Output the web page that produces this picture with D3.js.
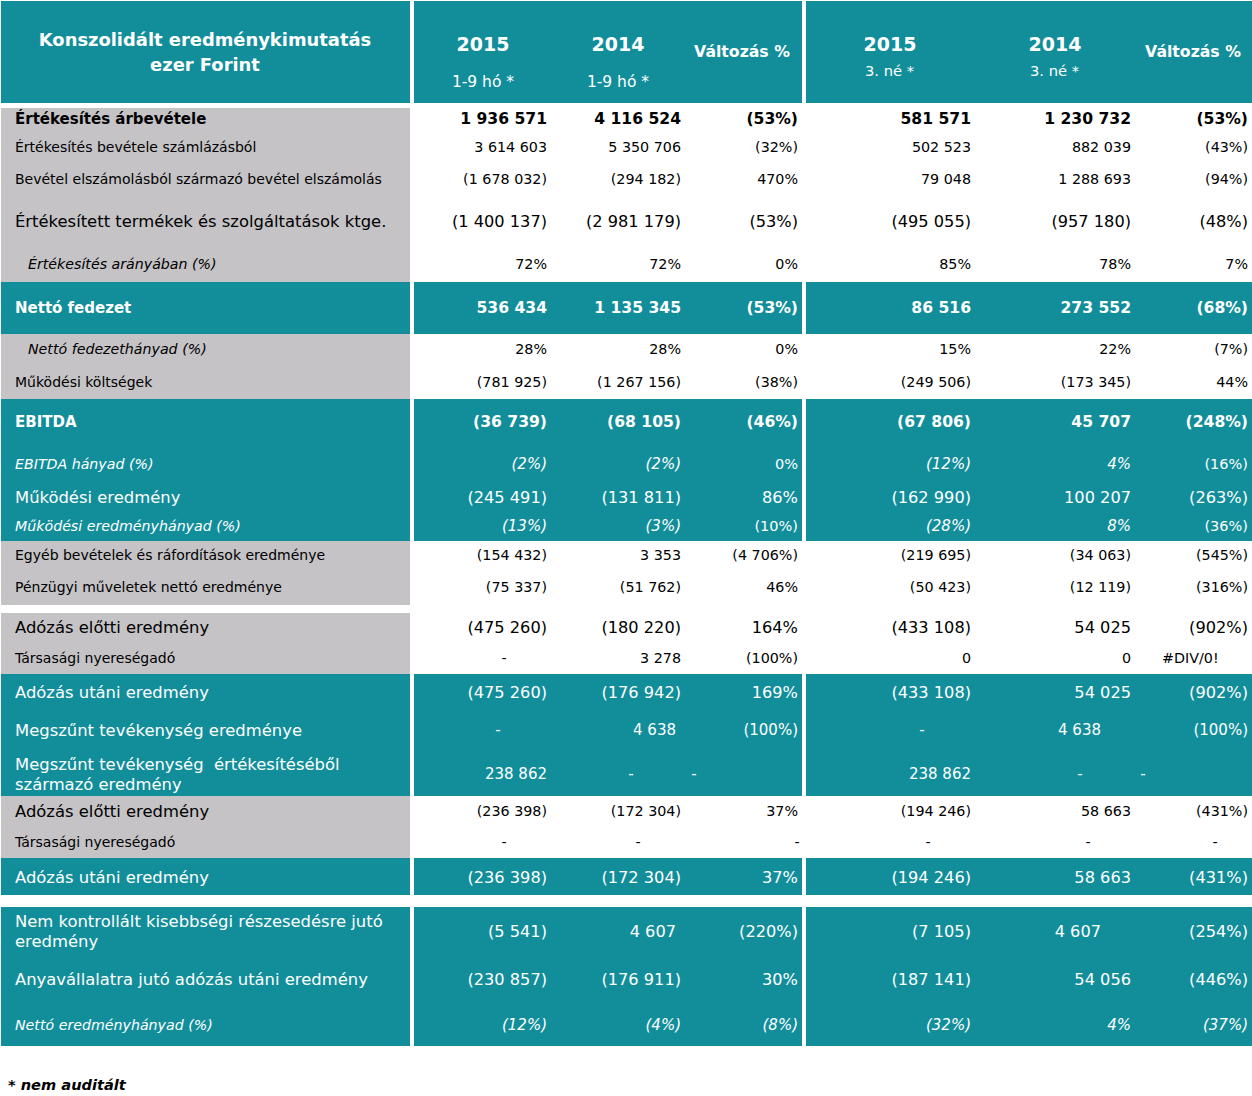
<!DOCTYPE html>
<html><head><meta charset="utf-8">
<script src="https://cdn.jsdelivr.net/npm/d3@7"></script>
<style>body{margin:0;background:#fff}svg{display:block}</style>
</head><body>
<script>
// ---------------- DATA ----------------
const rowLabels = [
"Értékesítés árbevétele",
"Értékesítés bevétele számlázásból",
"Bevétel elszámolásból származó bevétel elszámolás",
"Értékesített termékek és szolgáltatások ktge.",
"Értékesítés arányában (%)",
"Nettó fedezet",
"Nettó fedezethányad (%)",
"Működési költségek",
"EBITDA",
"EBITDA hányad (%)",
"Működési eredmény",
"Működési eredményhányad (%)",
"Egyéb bevételek és ráfordítások eredménye",
"Pénzügyi műveletek nettó eredménye",
"Adózás előtti eredmény",
"Társasági nyereségadó",
"Adózás utáni eredmény",
"Megszűnt tevékenység eredménye",
"Megszűnt tevékenység  értékesítéséből\nszármazó eredmény",
"Adózás előtti eredmény",
"Társasági nyereségadó",
"Adózás utáni eredmény",
"Nem kontrollált kisebbségi részesedésre jutó\neredmény",
"Anyavállalatra jutó adózás utáni eredmény",
"Nettó eredményhányad (%)"];

const ytd2015 = ["1 936 571","3 614 603","(1 678 032)","(1 400 137)","72%","536 434","28%","(781 925)","(36 739)","(2%)","(245 491)","(13%)","(154 432)","(75 337)","(475 260)","-","(475 260)","-","238 862","(236 398)","-","(236 398)","(5 541)","(230 857)","(12%)"];
const ytd2014 = ["4 116 524","5 350 706","(294 182)","(2 981 179)","72%","1 135 345","28%","(1 267 156)","(68 105)","(2%)","(131 811)","(3%)","3 353","(51 762)","(180 220)","3 278","(176 942)","4 638","-","(172 304)","-","(172 304)","4 607","(176 911)","(4%)"];
const ytdChange = ["(53%)","(32%)","470%","(53%)","0%","(53%)","0%","(38%)","(46%)","0%","86%","(10%)","(4 706%)","46%","164%","(100%)","169%","(100%)","-","37%","-","37%","(220%)","30%","(8%)"];
const q3_2015 = ["581 571","502 523","79 048","(495 055)","85%","86 516","15%","(249 506)","(67 806)","(12%)","(162 990)","(28%)","(219 695)","(50 423)","(433 108)","0","(433 108)","-","238 862","(194 246)","-","(194 246)","(7 105)","(187 141)","(32%)"];
const q3_2014 = ["1 230 732","882 039","1 288 693","(957 180)","78%","273 552","22%","(173 345)","45 707","4%","100 207","8%","(34 063)","(12 119)","54 025","0","54 025","4 638","-","58 663","-","58 663","4 607","54 056","4%"];
const q3Change = ["(53%)","(43%)","(94%)","(48%)","7%","(68%)","(7%)","44%","(248%)","(16%)","(263%)","(36%)","(545%)","(316%)","(902%)","#DIV/0!","(902%)","(100%)","-","(431%)","-","(431%)","(254%)","(446%)","(37%)"];

const headerTitle = ["Konszolidált eredménykimutatás","ezer Forint"];
const headerYears = ["2015","2014","Változás %","2015","2014","Változás %"];
const headerSubs  = ["1-9 hó *","1-9 hó *","","3. né *","3. né *",""];
const footnote = "* nem auditált";

// ---------------- STYLE / LAYOUT ----------------
const W = 1252, H = 1096;
const TEAL = "#128e9b", GRAY = "#c5c3c6";
const FONT = "'DejaVu Sans', Verdana, sans-serif";
const columns = [ytd2015, ytd2014, ytdChange, q3_2015, q3_2014, q3Change];
const colKeys = d3.range(6);
const xRight = d3.scaleOrdinal().domain(colKeys).range([547, 681, 798, 971, 1131, 1248]);
const rowCenter = d3.scaleOrdinal().domain(d3.range(rowLabels.length))
  .range([119,147,179,221,264,308,349,382,422,464,497,526,555,587,627,658,692,730,774,811,842,877,931,979,1025]);

// label styles: b bold, l light, m medium, i italic
const labelKind = ["b","l","l","m","i","b","i","l","b","i","m","i","l","l","m","l","m","m","m","m","l","m","m","m","i"];
const labelIndent = rowLabels.map((d,i)=> (i===4||i===6) ? 28 : 15);
const valueKind = ["b","l","l","m","l","b","l","l","b","i","m","i","l","l","m","l","m","l","l","l","l","m","m","m","i"];
const italicChangeCols = [24];

const labelStyle = {
  b: {size: 15, weight: "bold", style: "normal"},
  l: {size: 14, weight: "normal", style: "normal"},
  m: {size: 16.4, weight: "normal", style: "normal"},
  i: {size: 14.2, weight: "normal", style: "italic"}
};
const valueStyle = {
  b: {size: 15.6, weight: "bold", style: "normal"},
  l: {size: 14.3, weight: "normal", style: "normal"},
  m: {size: 16.2, weight: "normal", style: "normal"},
  i: {size: 15, weight: "normal", style: "italic"}
};

// sections: [y0, y1, rowStart, rowEnd, teal?]
const sections = [
  [108, 282, 0, 4, false],
  [282, 334, 5, 5, true],
  [334, 399, 6, 7, false],
  [399, 541, 8, 11, true],
  [541, 605, 12, 13, false],
  [613, 674, 14, 15, false],
  [674, 796, 16, 18, true],
  [796, 858, 19, 20, false],
  [858, 895, 21, 21, true],
  [907, 1046, 22, 24, true]
];
const blocks = [[1, 410], [414, 802], [806, 1252]];

// accounting quirks: horizontal nudges (dx) for specific cells "row,col"
const nudge = {
  "15,0": -43, "17,0": -49, "17,3": -49, "17,1": -5, "17,4": -30, "22,1": -5, "22,4": -30,
  "18,1": -50, "18,2": -104, "18,4": -51, "18,5": -105,
  "20,0": -43, "20,1": -43, "20,2": -1, "20,3": -43, "20,4": -43, "20,5": -33
};

const svg = d3.select("body").append("svg").attr("width", W).attr("height", H)
  .style("font-family", FONT);
svg.append("rect").attr("width", W).attr("height", H).attr("fill", "#fff");

const teal = r => sections.find(s => r >= s[2] && r <= s[3])[4];

// header background
svg.selectAll("rect.hdr").data(blocks).join("rect")
  .attr("x", d => d[0]).attr("y", 1).attr("width", d => d[1]-d[0]).attr("height", 102)
  .attr("fill", TEAL);

// section backgrounds
sections.forEach(s => {
  blocks.forEach((b, bi) => {
    const fill = s[4] ? TEAL : (bi === 0 ? GRAY : "#fff");
    svg.append("rect").attr("x", b[0]).attr("y", s[0]).attr("width", b[1]-b[0])
      .attr("height", s[1]-s[0]).attr("fill", fill);
  });
});

// header text
svg.selectAll("text.title").data(headerTitle).join("text")
  .attr("x", 205).attr("y", (d,i) => 46 + i*25).attr("text-anchor", "middle")
  .attr("fill", "#fff").attr("font-weight", "bold").attr("font-size", 17.9).text(d => d);

const hdrCenter = d3.scaleOrdinal().domain(colKeys).range([483, 618, 742, 890, 1055, 1193]);
svg.selectAll("text.year").data(headerYears).join("text")
  .attr("x", (d,i) => hdrCenter(i)).attr("y", (d,i) => (i%3===2) ? 57 : 51)
  .attr("text-anchor", "middle").attr("fill", "#fff").attr("font-weight", "bold")
  .attr("font-size", (d,i) => (i%3===2) ? 15.7 : 19).text(d => d);
svg.selectAll("text.sub").data(headerSubs).join("text")
  .attr("x", (d,i) => i < 3 ? hdrCenter(i) : hdrCenter(i) - 25)
  .attr("y", (d,i) => i < 3 ? 87 : 76)
  .attr("text-anchor", (d,i) => i < 3 ? "middle" : "start")
  .attr("fill", "#fff").attr("font-size", (d,i) => i < 3 ? 15.5 : 14.7).text(d => d);

// row labels
rowLabels.forEach((lab, r) => {
  const k = labelStyle[labelKind[r]];
  const lines = lab.split("\n");
  const cy = rowCenter(r);
  const t = svg.append("text").attr("x", labelIndent[r]).attr("dominant-baseline", "central")
    .attr("fill", teal(r) ? "#fff" : "#000")
    .attr("font-size", k.size).attr("font-weight", k.weight).attr("font-style", k.style)
    .attr("xml:space", "preserve");
  lines.forEach((ln, li) => {
    t.append("tspan").attr("x", labelIndent[r])
      .attr("y", lines.length === 1 ? cy : cy - 10 + li*20).text(ln);
  });
});

// values
columns.forEach((col, c) => {
  svg.selectAll(null).data(col).join("text")
    .attr("x", (d, r) => xRight(c) + (nudge[r+","+c] || 0))
    .attr("y", (d, r) => rowCenter(r))
    .attr("dominant-baseline", "central")
    .attr("text-anchor", (d, r) => d === "#DIV/0!" ? "start" : (d === "-" ? "middle" : "end"))
    .attr("dx", d => d === "#DIV/0!" ? -86 : 0)
    .attr("fill", (d, r) => teal(r) ? "#fff" : "#000")
    .each(function(d, r) {
      const k = valueStyle[valueKind[r]];
      let style = k.style, size = k.size;
      if (k.style === "italic" && (c === 2 || c === 5) && !italicChangeCols.includes(r)) { style = "normal"; size = 14.5; }
      if (r === 17 || r === 18) size = 15;
      d3.select(this).attr("font-size", size).attr("font-weight", k.weight).attr("font-style", style);
    })
    .text(d => d);
});

// footnote
svg.append("text").attr("x", 8).attr("y", 1084).attr("dominant-baseline", "central")
  .attr("font-size", 14.6).attr("font-weight", "bold").attr("font-style", "italic")
  .attr("fill", "#000").text(footnote);
</script>
</body></html>
